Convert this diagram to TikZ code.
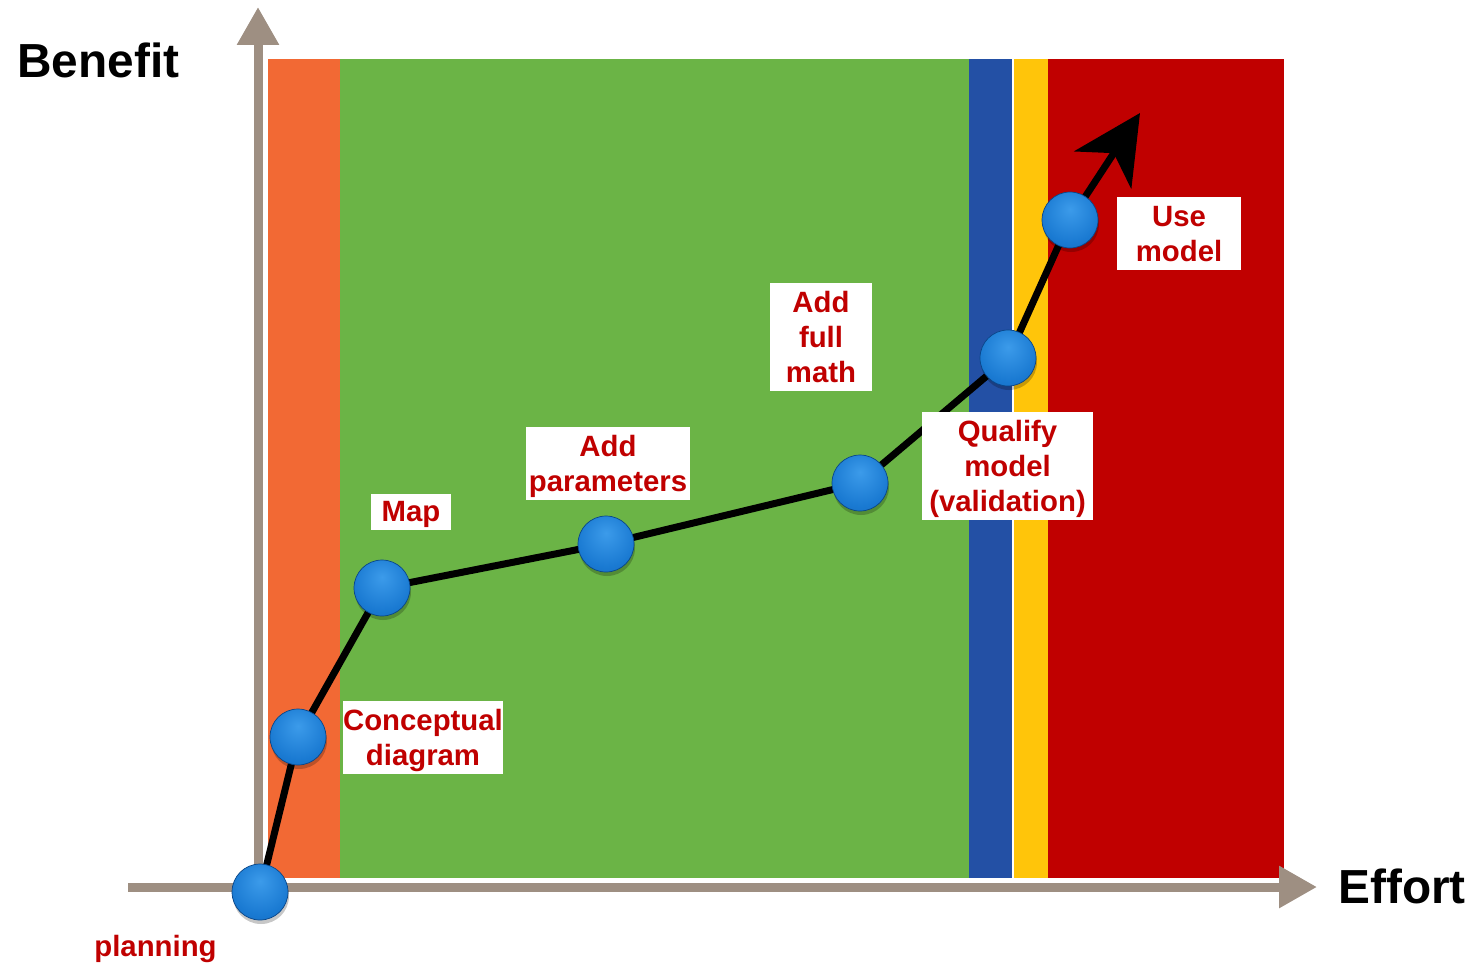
\documentclass[tikz,border=0pt]{standalone}
\usepackage{fontspec}
\setmainfont{Liberation Sans}
\usetikzlibrary{arrows.meta}

\definecolor{axisgray}{RGB}{158,143,130}
\definecolor{bandorange}{RGB}{242,105,52}
\definecolor{bandgreen}{RGB}{107,180,70}
\definecolor{bandblue}{RGB}{35,80,165}
\definecolor{bandyellow}{RGB}{255,197,10}
\definecolor{bandred}{RGB}{192,0,0}
\definecolor{labelred}{RGB}{192,0,0}
\definecolor{btnhi}{RGB}{60,155,234}
\definecolor{btnmid}{RGB}{26,122,210}
\definecolor{btnlo}{RGB}{16,98,184}
\definecolor{btnrim}{RGB}{10,70,136}

% glossy blue button, lit from above
\pgfdeclareradialshading{bluebutton}{\pgfpoint{0bp}{10bp}}{%
  color(0bp)=(btnhi); color(26bp)=(btnmid); color(46bp)=(btnlo); color(62bp)=(btnrim)}

\tikzset{
  axis/.style={draw=axisgray, line width=0.18cm,
    -{Triangle[length=0.76cm, width=0.8cm]}},
  curve/.style={draw=black, line width=0.14cm, line join=round, line cap=round},
  ball/.style={circle, minimum size=1.12cm, inner sep=0pt, shading=bluebutton,
    draw=btnrim, line width=0.4pt},
  ballshadow/.style={circle, minimum size=1.12cm, inner sep=0pt,
    fill=black, fill opacity=0.22},
  % white label box; the struts give every box the same text height and depth
  lbl/.style={fill=white, text=labelred, align=center, inner sep=0pt,
    font=\bfseries\fontsize{16.7pt}{19.9pt}\selectfont,
    execute at begin node={\rule{0pt}{15.5pt}},
    execute at end node={\rule[-4.5pt]{0pt}{0pt}}},
  lbltwo/.style={lbl, execute at begin node={\rule{0pt}{36.8pt}},
    execute at end node={\rule[-3.5pt]{0pt}{0pt}}},
  lblthree/.style={lbl, execute at begin node={\rule{0pt}{56.7pt}},
    execute at end node={\rule[-3.5pt]{0pt}{0pt}}},
  axislabel/.style={inner sep=0pt, font=\bfseries\fontsize{27.2pt}{31pt}\selectfont},
}

\begin{document}
\begin{tikzpicture}[x=0.02cm, y=-0.02cm]
  \useasboundingbox (0,0) rectangle (1473,964);

  % coloured effort bands
  \fill[bandorange] (268,59) rectangle (340,878);
  \fill[bandgreen]  (340,59) rectangle (969,878);
  \fill[bandblue]   (969,59) rectangle (1012,878);
  \fill[bandyellow] (1014,59) rectangle (1048,878);
  \fill[bandred]    (1048,59) rectangle (1284,878);

  % axes
  \coordinate (origin) at (258,896);
  \coordinate (ytip) at (258,7);
  \coordinate (xstart) at (128,887);
  \coordinate (xtip) at (1317,887);
  \draw[axis] (origin) -- (ytip);
  \draw[axis] (xstart) -- (xtip);

  \node[axislabel, anchor=base west] (benefit) at (17,77) {Benefit};
  \node[axislabel, anchor=base west] (effort) at (1338,903) {Effort};

  % milestones along the curve
  \coordinate (p1) at (260,892);
  \coordinate (p2) at (298,737);
  \coordinate (p3) at (382,588);
  \coordinate (p4) at (606,544);
  \coordinate (p5) at (860,483);
  \coordinate (p6) at (1008,358);
  \coordinate (p7) at (1070,220);
  \coordinate (tip) at (1140,113);

  \draw[curve] (p1) -- (p2) -- (p3) -- (p4) -- (p5) -- (p6) -- (p7);
  \draw[curve, -{Stealth[length=1.36cm, width=1.36cm, inset=0.4cm]}] (p7) -- (tip);

  \foreach \i in {1,...,7} {
    \node[ballshadow] at ([shift={(1,4)}]p\i) {};
    \node[ball] (b\i) at (p\i) {};
  }

  % stage labels
  \node[lbltwo, minimum width=3.2cm, minimum height=1.42cm] (concept) at (423,737.5) {Conceptual\\diagram};
  \node[lbl, minimum width=1.6cm, minimum height=0.72cm] (map) at (411,512) {Map};
  \node[lbltwo, minimum width=3.28cm, minimum height=1.42cm] (params) at (608,463.5) {Add\\parameters};
  \node[lblthree, minimum width=2.04cm, minimum height=2.12cm] (math) at (821,337) {Add\\full\\math};
  \node[lblthree, minimum width=3.42cm, minimum height=2.12cm] (qualify) at (1007.5,466) {Qualify\\model\\(validation)};
  \node[lbltwo, minimum width=2.48cm, minimum height=1.42cm] (use) at (1179,233.5) {Use\\model};
  \node[inner sep=0pt, text=labelred, anchor=base west,
    font=\bfseries\fontsize{16.7pt}{19.9pt}\selectfont] (planning) at (94,956) {planning};
\end{tikzpicture}
\end{document}
